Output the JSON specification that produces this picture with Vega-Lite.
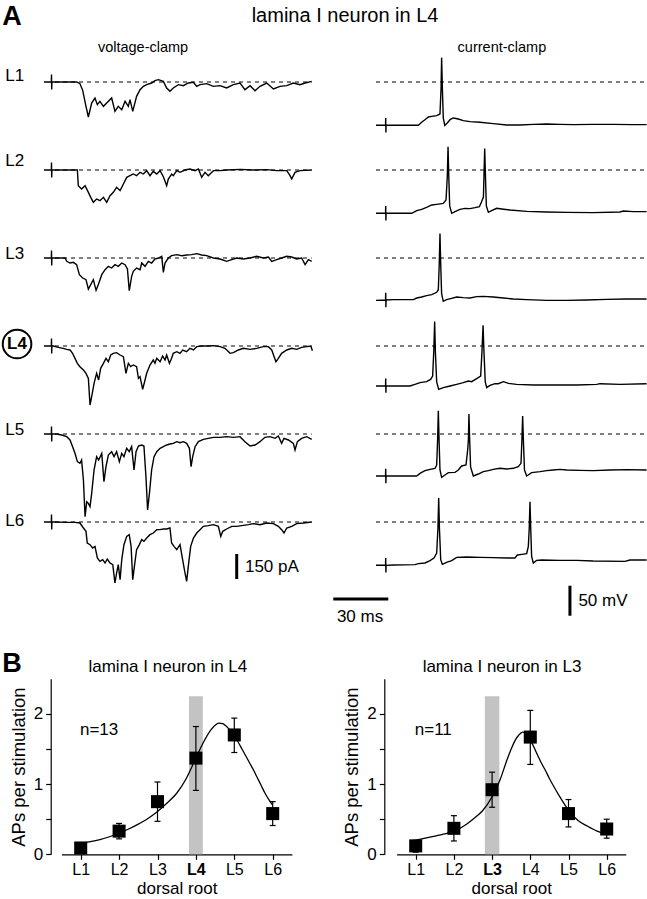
{
"$schema":"https://vega.github.io/schema/vega-lite/v6.json",
"width":647,"height":899,"autosize":{"type":"none"},"padding":0,"background":"white",
"config":{"view":{"stroke":null},"font":"Liberation Sans","axis":{"grid":false,"domainColor":"black","tickColor":"black","labelColor":"black","titleColor":"black","labelFontSize":17,"titleFontSize":18.5,"titleFontWeight":"normal","labelFont":"Liberation Sans","titleFont":"Liberation Sans","domainWidth":1.2,"tickWidth":1.2,"tickSize":5}},
"datasets":{
"vc":[
{"r":"L1","t":0,"v":0},{"r":"L1","t":4.0,"v":0},{"r":"L1","t":4.1,"v":45},{"r":"L1","t":4.2,"v":-45},{"r":"L1","t":4.3,"v":0},{"r":"L1","t":17.8,"v":0},{"r":"L1","t":19.6,"v":-10},{"r":"L1","t":21.1,"v":-50},{"r":"L1","t":22.9,"v":-146},{"r":"L1","t":24.2,"v":-210},{"r":"L1","t":26,"v":-126},{"r":"L1","t":27.8,"v":-96},{"r":"L1","t":29.1,"v":-136},{"r":"L1","t":30.5,"v":-116},{"r":"L1","t":32.4,"v":-146},{"r":"L1","t":34.2,"v":-126},{"r":"L1","t":36.9,"v":-96},{"r":"L1","t":38.7,"v":-176},{"r":"L1","t":40.5,"v":-146},{"r":"L1","t":42.4,"v":-166},{"r":"L1","t":44.2,"v":-116},{"r":"L1","t":46,"v":-146},{"r":"L1","t":46.9,"v":-106},{"r":"L1","t":48.4,"v":-176},{"r":"L1","t":50.5,"v":-86},{"r":"L1","t":52.4,"v":-46},{"r":"L1","t":54.2,"v":-26},{"r":"L1","t":56,"v":-16},{"r":"L1","t":58.7,"v":-6},{"r":"L1","t":60.5,"v":8},{"r":"L1","t":62.4,"v":14},{"r":"L1","t":65.1,"v":4},{"r":"L1","t":66.9,"v":-36},{"r":"L1","t":68.7,"v":-56},{"r":"L1","t":70.5,"v":-36},{"r":"L1","t":73.3,"v":-16},{"r":"L1","t":76,"v":-22},{"r":"L1","t":78.7,"v":-6},{"r":"L1","t":81.5,"v":-2},{"r":"L1","t":83.3,"v":-26},{"r":"L1","t":85.1,"v":-16},{"r":"L1","t":88.7,"v":-10},{"r":"L1","t":92.4,"v":-26},{"r":"L1","t":96,"v":-22},{"r":"L1","t":99.6,"v":-36},{"r":"L1","t":103.3,"v":-16},{"r":"L1","t":106.9,"v":-6},{"r":"L1","t":109.6,"v":-46},{"r":"L1","t":112.4,"v":-22},{"r":"L1","t":115.1,"v":-52},{"r":"L1","t":117.8,"v":-26},{"r":"L1","t":121.5,"v":-6},{"r":"L1","t":125.1,"v":-42},{"r":"L1","t":128.7,"v":-26},{"r":"L1","t":132.4,"v":-22},{"r":"L1","t":136,"v":-6},{"r":"L1","t":139.6,"v":-16},{"r":"L1","t":142.4,"v":-6},{"r":"L1","t":146,"v":4},
{"r":"L2","t":0,"v":0},{"r":"L2","t":4.0,"v":0},{"r":"L2","t":4.1,"v":45},{"r":"L2","t":4.2,"v":-45},{"r":"L2","t":4.3,"v":0},{"r":"L2","t":18.2,"v":0},{"r":"L2","t":18.7,"v":-94},{"r":"L2","t":20.5,"v":-114},{"r":"L2","t":22.4,"v":-94},{"r":"L2","t":24.2,"v":-134},{"r":"L2","t":25.5,"v":-164},{"r":"L2","t":26.9,"v":-194},{"r":"L2","t":28.7,"v":-174},{"r":"L2","t":30.5,"v":-184},{"r":"L2","t":32.4,"v":-164},{"r":"L2","t":34.2,"v":-194},{"r":"L2","t":36,"v":-154},{"r":"L2","t":37.8,"v":-134},{"r":"L2","t":39.6,"v":-104},{"r":"L2","t":41.5,"v":-124},{"r":"L2","t":43.3,"v":-84},{"r":"L2","t":45.1,"v":-44},{"r":"L2","t":46.9,"v":-34},{"r":"L2","t":48.7,"v":-24},{"r":"L2","t":50.5,"v":-34},{"r":"L2","t":52.4,"v":-14},{"r":"L2","t":54.2,"v":-24},{"r":"L2","t":56,"v":-4},{"r":"L2","t":57.8,"v":-34},{"r":"L2","t":59.6,"v":-8},{"r":"L2","t":61.5,"v":-24},{"r":"L2","t":63.3,"v":-4},{"r":"L2","t":65.1,"v":-40},{"r":"L2","t":66.9,"v":-94},{"r":"L2","t":67.8,"v":-54},{"r":"L2","t":69.6,"v":-24},{"r":"L2","t":70.5,"v":-34},{"r":"L2","t":72.4,"v":-4},{"r":"L2","t":74.2,"v":-14},{"r":"L2","t":76.9,"v":0},{"r":"L2","t":79.6,"v":6},{"r":"L2","t":82.4,"v":-4},{"r":"L2","t":84.2,"v":6},{"r":"L2","t":86,"v":-44},{"r":"L2","t":87.8,"v":-14},{"r":"L2","t":89.6,"v":-34},{"r":"L2","t":92.4,"v":-4},{"r":"L2","t":96,"v":-4},{"r":"L2","t":99.6,"v":0},{"r":"L2","t":106.9,"v":4},{"r":"L2","t":114.2,"v":0},{"r":"L2","t":121.5,"v":2},{"r":"L2","t":126.9,"v":-4},{"r":"L2","t":132.4,"v":-4},{"r":"L2","t":134.2,"v":-34},{"r":"L2","t":135.1,"v":-54},{"r":"L2","t":136.9,"v":-14},{"r":"L2","t":139.6,"v":-4},{"r":"L2","t":146,"v":0},
{"r":"L3","t":0,"v":0},{"r":"L3","t":4.0,"v":0},{"r":"L3","t":4.1,"v":45},{"r":"L3","t":4.2,"v":-45},{"r":"L3","t":4.3,"v":0},{"r":"L3","t":11.5,"v":0},{"r":"L3","t":12.4,"v":-20},{"r":"L3","t":14.2,"v":-30},{"r":"L3","t":16,"v":-26},{"r":"L3","t":17.8,"v":-40},{"r":"L3","t":19.3,"v":-100},{"r":"L3","t":21.1,"v":-120},{"r":"L3","t":22.9,"v":-130},{"r":"L3","t":24.2,"v":-186},{"r":"L3","t":25.5,"v":-160},{"r":"L3","t":26.9,"v":-130},{"r":"L3","t":28.4,"v":-194},{"r":"L3","t":29.6,"v":-160},{"r":"L3","t":31.5,"v":-100},{"r":"L3","t":33.3,"v":-70},{"r":"L3","t":35.1,"v":-50},{"r":"L3","t":36.9,"v":-60},{"r":"L3","t":38.7,"v":-40},{"r":"L3","t":40.5,"v":-50},{"r":"L3","t":42.4,"v":-30},{"r":"L3","t":44.2,"v":-40},{"r":"L3","t":45.5,"v":-66},{"r":"L3","t":46.5,"v":-196},{"r":"L3","t":47.8,"v":-110},{"r":"L3","t":48.7,"v":-80},{"r":"L3","t":50.5,"v":-60},{"r":"L3","t":52.4,"v":-70},{"r":"L3","t":53.3,"v":-30},{"r":"L3","t":55.1,"v":-50},{"r":"L3","t":56.9,"v":-20},{"r":"L3","t":58.7,"v":-30},{"r":"L3","t":60.5,"v":-6},{"r":"L3","t":62.4,"v":0},{"r":"L3","t":64.2,"v":10},{"r":"L3","t":65.1,"v":-86},{"r":"L3","t":66,"v":-30},{"r":"L3","t":67.8,"v":0},{"r":"L3","t":69.6,"v":14},{"r":"L3","t":72.4,"v":20},{"r":"L3","t":75.1,"v":14},{"r":"L3","t":77.8,"v":18},{"r":"L3","t":80.5,"v":20},{"r":"L3","t":83.3,"v":26},{"r":"L3","t":86,"v":18},{"r":"L3","t":88.7,"v":14},{"r":"L3","t":92.4,"v":0},{"r":"L3","t":96,"v":-6},{"r":"L3","t":99.6,"v":-20},{"r":"L3","t":102.4,"v":-10},{"r":"L3","t":105.1,"v":0},{"r":"L3","t":108.7,"v":-6},{"r":"L3","t":112.4,"v":0},{"r":"L3","t":116,"v":10},{"r":"L3","t":119.6,"v":0},{"r":"L3","t":122.4,"v":6},{"r":"L3","t":124.2,"v":-20},{"r":"L3","t":126.9,"v":-10},{"r":"L3","t":129.6,"v":0},{"r":"L3","t":132.4,"v":10},{"r":"L3","t":135.1,"v":6},{"r":"L3","t":137.8,"v":-6},{"r":"L3","t":140.5,"v":0},{"r":"L3","t":142.4,"v":-40},{"r":"L3","t":144.2,"v":-10},{"r":"L3","t":146,"v":-20},
{"r":"L4","t":0,"v":0},{"r":"L4","t":4.0,"v":0},{"r":"L4","t":4.1,"v":45},{"r":"L4","t":4.2,"v":-45},{"r":"L4","t":4.3,"v":0},{"r":"L4","t":5.1,"v":0},{"r":"L4","t":7.8,"v":-8},{"r":"L4","t":10.5,"v":-14},{"r":"L4","t":12.4,"v":-20},{"r":"L4","t":14.2,"v":-24},{"r":"L4","t":15.6,"v":-44},{"r":"L4","t":16.9,"v":-74},{"r":"L4","t":18.2,"v":-104},{"r":"L4","t":19.6,"v":-124},{"r":"L4","t":21.5,"v":-144},{"r":"L4","t":22.9,"v":-164},{"r":"L4","t":24.2,"v":-194},{"r":"L4","t":25.1,"v":-354},{"r":"L4","t":26,"v":-304},{"r":"L4","t":27.3,"v":-224},{"r":"L4","t":28.7,"v":-164},{"r":"L4","t":29.8,"v":-204},{"r":"L4","t":30.9,"v":-134},{"r":"L4","t":32.4,"v":-104},{"r":"L4","t":33.8,"v":-74},{"r":"L4","t":35.1,"v":-94},{"r":"L4","t":36.4,"v":-54},{"r":"L4","t":37.8,"v":-44},{"r":"L4","t":39.6,"v":-40},{"r":"L4","t":41.5,"v":-54},{"r":"L4","t":43.3,"v":-64},{"r":"L4","t":44.7,"v":-164},{"r":"L4","t":46,"v":-104},{"r":"L4","t":47.3,"v":-124},{"r":"L4","t":48.7,"v":-114},{"r":"L4","t":50.5,"v":-124},{"r":"L4","t":51.5,"v":-194},{"r":"L4","t":52.4,"v":-184},{"r":"L4","t":53.8,"v":-260},{"r":"L4","t":55.1,"v":-204},{"r":"L4","t":56,"v":-164},{"r":"L4","t":57.8,"v":-114},{"r":"L4","t":59.6,"v":-84},{"r":"L4","t":60.5,"v":-104},{"r":"L4","t":61.5,"v":-74},{"r":"L4","t":63.3,"v":-94},{"r":"L4","t":64.7,"v":-60},{"r":"L4","t":66,"v":-84},{"r":"L4","t":66.9,"v":-54},{"r":"L4","t":68.4,"v":-104},{"r":"L4","t":69.6,"v":-74},{"r":"L4","t":70.5,"v":-44},{"r":"L4","t":72.4,"v":-34},{"r":"L4","t":74.2,"v":-44},{"r":"L4","t":75.6,"v":-24},{"r":"L4","t":77.8,"v":-34},{"r":"L4","t":79.6,"v":-14},{"r":"L4","t":81.5,"v":-24},{"r":"L4","t":83.3,"v":-4},{"r":"L4","t":86,"v":0},{"r":"L4","t":88.7,"v":0},{"r":"L4","t":92.4,"v":2},{"r":"L4","t":96,"v":-4},{"r":"L4","t":98.7,"v":-14},{"r":"L4","t":101.5,"v":-44},{"r":"L4","t":103.3,"v":-40},{"r":"L4","t":106,"v":-24},{"r":"L4","t":108.7,"v":-14},{"r":"L4","t":112.4,"v":-20},{"r":"L4","t":116,"v":-14},{"r":"L4","t":119.6,"v":-4},{"r":"L4","t":122.4,"v":-4},{"r":"L4","t":124.2,"v":-24},{"r":"L4","t":125.5,"v":-64},{"r":"L4","t":126.5,"v":-94},{"r":"L4","t":127.8,"v":-74},{"r":"L4","t":129.6,"v":-44},{"r":"L4","t":132.4,"v":-24},{"r":"L4","t":135.1,"v":-14},{"r":"L4","t":137.8,"v":-20},{"r":"L4","t":140.5,"v":-8},{"r":"L4","t":143.3,"v":-4},{"r":"L4","t":145.5,"v":0},{"r":"L4","t":146.4,"v":-28},
{"r":"L5","t":0,"v":0},{"r":"L5","t":4.0,"v":0},{"r":"L5","t":4.1,"v":45},{"r":"L5","t":4.2,"v":-45},{"r":"L5","t":4.3,"v":0},{"r":"L5","t":6.9,"v":0},{"r":"L5","t":9.6,"v":-6},{"r":"L5","t":12.4,"v":-16},{"r":"L5","t":14.2,"v":-36},{"r":"L5","t":15.6,"v":-76},{"r":"L5","t":16.9,"v":-116},{"r":"L5","t":18.2,"v":-166},{"r":"L5","t":19.6,"v":-176},{"r":"L5","t":20.5,"v":-156},{"r":"L5","t":21.5,"v":-276},{"r":"L5","t":22.4,"v":-496},{"r":"L5","t":23.3,"v":-406},{"r":"L5","t":24.2,"v":-416},{"r":"L5","t":25.1,"v":-436},{"r":"L5","t":26,"v":-356},{"r":"L5","t":27.3,"v":-216},{"r":"L5","t":28.7,"v":-136},{"r":"L5","t":29.8,"v":-156},{"r":"L5","t":31.5,"v":-116},{"r":"L5","t":32.7,"v":-286},{"r":"L5","t":33.8,"v":-196},{"r":"L5","t":35.1,"v":-126},{"r":"L5","t":36.9,"v":-106},{"r":"L5","t":38.2,"v":-136},{"r":"L5","t":39.6,"v":-106},{"r":"L5","t":41.1,"v":-166},{"r":"L5","t":42.4,"v":-116},{"r":"L5","t":43.6,"v":-136},{"r":"L5","t":45.1,"v":-86},{"r":"L5","t":46.5,"v":-106},{"r":"L5","t":47.8,"v":-76},{"r":"L5","t":49.1,"v":-216},{"r":"L5","t":50.2,"v":-106},{"r":"L5","t":51.5,"v":-72},{"r":"L5","t":53.3,"v":-66},{"r":"L5","t":54.5,"v":-72},{"r":"L5","t":55.6,"v":-256},{"r":"L5","t":56.5,"v":-456},{"r":"L5","t":57.5,"v":-356},{"r":"L5","t":58.7,"v":-216},{"r":"L5","t":60,"v":-136},{"r":"L5","t":61.5,"v":-106},{"r":"L5","t":63.3,"v":-86},{"r":"L5","t":65.1,"v":-76},{"r":"L5","t":66.9,"v":-66},{"r":"L5","t":68.7,"v":-60},{"r":"L5","t":70.5,"v":-56},{"r":"L5","t":72.4,"v":-46},{"r":"L5","t":74.2,"v":-52},{"r":"L5","t":76,"v":-46},{"r":"L5","t":77.8,"v":-56},{"r":"L5","t":79.3,"v":-86},{"r":"L5","t":80.2,"v":-196},{"r":"L5","t":81.1,"v":-136},{"r":"L5","t":82.4,"v":-76},{"r":"L5","t":84.2,"v":-46},{"r":"L5","t":86.9,"v":-32},{"r":"L5","t":89.6,"v":-26},{"r":"L5","t":92.4,"v":-20},{"r":"L5","t":96,"v":-20},{"r":"L5","t":99.6,"v":-16},{"r":"L5","t":103.3,"v":-20},{"r":"L5","t":106.9,"v":-16},{"r":"L5","t":109.6,"v":-46},{"r":"L5","t":112.4,"v":-72},{"r":"L5","t":115.1,"v":-66},{"r":"L5","t":117.8,"v":-46},{"r":"L5","t":120.5,"v":-20},{"r":"L5","t":123.3,"v":-16},{"r":"L5","t":126,"v":-26},{"r":"L5","t":127.8,"v":-12},{"r":"L5","t":129.6,"v":-56},{"r":"L5","t":130.9,"v":-26},{"r":"L5","t":133.3,"v":-36},{"r":"L5","t":136,"v":-56},{"r":"L5","t":136.9,"v":-96},{"r":"L5","t":138.2,"v":-46},{"r":"L5","t":140.5,"v":-26},{"r":"L5","t":143.3,"v":-16},{"r":"L5","t":146,"v":-32},
{"r":"L6","t":0,"v":0},{"r":"L6","t":4.0,"v":0},{"r":"L6","t":4.1,"v":45},{"r":"L6","t":4.2,"v":-45},{"r":"L6","t":4.3,"v":0},{"r":"L6","t":6,"v":0},{"r":"L6","t":12.4,"v":-2},{"r":"L6","t":16.9,"v":-2},{"r":"L6","t":19.6,"v":-6},{"r":"L6","t":21.5,"v":-36},{"r":"L6","t":22.9,"v":-56},{"r":"L6","t":23.6,"v":-126},{"r":"L6","t":25.1,"v":-136},{"r":"L6","t":26.5,"v":-156},{"r":"L6","t":27.8,"v":-146},{"r":"L6","t":29.1,"v":-216},{"r":"L6","t":30.5,"v":-236},{"r":"L6","t":32,"v":-226},{"r":"L6","t":33.3,"v":-246},{"r":"L6","t":34.5,"v":-222},{"r":"L6","t":36,"v":-246},{"r":"L6","t":37.5,"v":-256},{"r":"L6","t":38.7,"v":-366},{"r":"L6","t":39.6,"v":-306},{"r":"L6","t":40.5,"v":-256},{"r":"L6","t":41.5,"v":-346},{"r":"L6","t":42.4,"v":-226},{"r":"L6","t":43.6,"v":-136},{"r":"L6","t":45.1,"v":-86},{"r":"L6","t":46.5,"v":-76},{"r":"L6","t":47.5,"v":-146},{"r":"L6","t":48.4,"v":-346},{"r":"L6","t":49.3,"v":-266},{"r":"L6","t":50.5,"v":-166},{"r":"L6","t":52,"v":-136},{"r":"L6","t":53.3,"v":-106},{"r":"L6","t":54.5,"v":-116},{"r":"L6","t":56,"v":-96},{"r":"L6","t":57.8,"v":-76},{"r":"L6","t":59.6,"v":-66},{"r":"L6","t":61.5,"v":-46},{"r":"L6","t":63.3,"v":-46},{"r":"L6","t":65.1,"v":-42},{"r":"L6","t":66.9,"v":-42},{"r":"L6","t":68.7,"v":-36},{"r":"L6","t":69.6,"v":-126},{"r":"L6","t":70.9,"v":-146},{"r":"L6","t":72.4,"v":-166},{"r":"L6","t":74.2,"v":-136},{"r":"L6","t":75.6,"v":-226},{"r":"L6","t":76.9,"v":-306},{"r":"L6","t":77.8,"v":-356},{"r":"L6","t":78.7,"v":-266},{"r":"L6","t":80,"v":-146},{"r":"L6","t":81.5,"v":-96},{"r":"L6","t":83.3,"v":-66},{"r":"L6","t":85.1,"v":-46},{"r":"L6","t":86.9,"v":-26},{"r":"L6","t":89.6,"v":-22},{"r":"L6","t":92.4,"v":-16},{"r":"L6","t":95.1,"v":-26},{"r":"L6","t":96.4,"v":-86},{"r":"L6","t":97.5,"v":-56},{"r":"L6","t":99.6,"v":-42},{"r":"L6","t":102.4,"v":-26},{"r":"L6","t":105.1,"v":-26},{"r":"L6","t":107.8,"v":-22},{"r":"L6","t":111.5,"v":-16},{"r":"L6","t":114.2,"v":-10},{"r":"L6","t":117.8,"v":-16},{"r":"L6","t":121.5,"v":-6},{"r":"L6","t":125.1,"v":-10},{"r":"L6","t":127.8,"v":-26},{"r":"L6","t":129.6,"v":-46},{"r":"L6","t":130.9,"v":-66},{"r":"L6","t":132.4,"v":-36},{"r":"L6","t":135.1,"v":-26},{"r":"L6","t":137.8,"v":-10},{"r":"L6","t":141.5,"v":-6},{"r":"L6","t":146,"v":0}
],
"cc":[
{"r":"L1","t":0,"v":-72.2},{"r":"L1","t":5.2,"v":-72.2},{"r":"L1","t":5.3,"v":-60},{"r":"L1","t":5.4,"v":-84},{"r":"L1","t":5.5,"v":-72.2},{"r":"L1","t":23.1,"v":-72.2},{"r":"L1","t":24.9,"v":-67.2},{"r":"L1","t":26.7,"v":-62.8},{"r":"L1","t":28.6,"v":-58.3},{"r":"L1","t":30.4,"v":-57.2},{"r":"L1","t":33.1,"v":-56.1},{"r":"L1","t":34.9,"v":-53.3},{"r":"L1","t":35.5,"v":-10},{"r":"L1","t":35.8,"v":40.6},{"r":"L1","t":36.2,"v":-10},{"r":"L1","t":36.7,"v":-60},{"r":"L1","t":37.5,"v":-72.2},{"r":"L1","t":38.9,"v":-68.3},{"r":"L1","t":40.4,"v":-62.8},{"r":"L1","t":42.2,"v":-60},{"r":"L1","t":44.9,"v":-61.7},{"r":"L1","t":47.6,"v":-64.4},{"r":"L1","t":51.3,"v":-66.1},{"r":"L1","t":56.7,"v":-67.2},{"r":"L1","t":64,"v":-69.4},{"r":"L1","t":71.3,"v":-71.7},{"r":"L1","t":78.5,"v":-71.7},{"r":"L1","t":85.8,"v":-70.6},{"r":"L1","t":93.1,"v":-70},{"r":"L1","t":100.4,"v":-70.6},{"r":"L1","t":107.6,"v":-71.1},{"r":"L1","t":118.5,"v":-70.6},{"r":"L1","t":129.5,"v":-70.6},{"r":"L1","t":140.4,"v":-71.1},{"r":"L1","t":147.6,"v":-71.1},
{"r":"L2","t":0,"v":-72.2},{"r":"L2","t":5.2,"v":-72.2},{"r":"L2","t":5.3,"v":-60},{"r":"L2","t":5.4,"v":-84},{"r":"L2","t":5.5,"v":-72.2},{"r":"L2","t":19.5,"v":-72.2},{"r":"L2","t":22.2,"v":-67.8},{"r":"L2","t":24.9,"v":-65.6},{"r":"L2","t":27.6,"v":-62.2},{"r":"L2","t":30.4,"v":-58.3},{"r":"L2","t":33.1,"v":-57.2},{"r":"L2","t":36.7,"v":-55.6},{"r":"L2","t":38.2,"v":-50},{"r":"L2","t":38.9,"v":-10},{"r":"L2","t":39.3,"v":38.9},{"r":"L2","t":39.7,"v":-10},{"r":"L2","t":40.2,"v":-60},{"r":"L2","t":41.3,"v":-72.2},{"r":"L2","t":43.1,"v":-69.4},{"r":"L2","t":45.8,"v":-65.6},{"r":"L2","t":48.5,"v":-63.9},{"r":"L2","t":51.3,"v":-64.4},{"r":"L2","t":54,"v":-62.8},{"r":"L2","t":56.4,"v":-61.1},{"r":"L2","t":57.6,"v":-52.8},{"r":"L2","t":58.6,"v":-45},{"r":"L2","t":58.9,"v":-10},{"r":"L2","t":59.3,"v":35.6},{"r":"L2","t":59.7,"v":-10},{"r":"L2","t":60.2,"v":-60},{"r":"L2","t":61.3,"v":-70.6},{"r":"L2","t":63.1,"v":-67.8},{"r":"L2","t":65.8,"v":-63.9},{"r":"L2","t":68.6,"v":-65},{"r":"L2","t":73.1,"v":-66.7},{"r":"L2","t":82.2,"v":-68.9},{"r":"L2","t":93.1,"v":-70},{"r":"L2","t":104,"v":-70.6},{"r":"L2","t":118.5,"v":-71.1},{"r":"L2","t":133.1,"v":-70},{"r":"L2","t":134.9,"v":-68.3},{"r":"L2","t":140.4,"v":-69.4},{"r":"L2","t":147.6,"v":-69.4},
{"r":"L3","t":0,"v":-70.6},{"r":"L3","t":5.2,"v":-70},{"r":"L3","t":5.3,"v":-58},{"r":"L3","t":5.4,"v":-82},{"r":"L3","t":5.5,"v":-70},{"r":"L3","t":9.5,"v":-69.4},{"r":"L3","t":20.4,"v":-69.4},{"r":"L3","t":22.2,"v":-66.7},{"r":"L3","t":24.9,"v":-65},{"r":"L3","t":27.6,"v":-62.8},{"r":"L3","t":30.4,"v":-61.1},{"r":"L3","t":33.1,"v":-57.2},{"r":"L3","t":34,"v":-52.8},{"r":"L3","t":34.5,"v":-10},{"r":"L3","t":34.9,"v":40.6},{"r":"L3","t":35.3,"v":-10},{"r":"L3","t":35.8,"v":-60},{"r":"L3","t":36.7,"v":-72.2},{"r":"L3","t":38.5,"v":-69.4},{"r":"L3","t":41.3,"v":-67.2},{"r":"L3","t":44,"v":-65},{"r":"L3","t":47.6,"v":-66.1},{"r":"L3","t":51.3,"v":-66.7},{"r":"L3","t":54.9,"v":-64.4},{"r":"L3","t":58.5,"v":-63.9},{"r":"L3","t":64,"v":-65},{"r":"L3","t":69.5,"v":-66.7},{"r":"L3","t":74.9,"v":-68.3},{"r":"L3","t":82.2,"v":-69.4},{"r":"L3","t":93.1,"v":-70.6},{"r":"L3","t":104,"v":-70.6},{"r":"L3","t":114.9,"v":-70},{"r":"L3","t":125.8,"v":-68.9},{"r":"L3","t":136.7,"v":-68.3},{"r":"L3","t":147.6,"v":-68.3},
{"r":"L4","t":0,"v":-66.7},{"r":"L4","t":5.2,"v":-66.7},{"r":"L4","t":5.3,"v":-54},{"r":"L4","t":5.4,"v":-78},{"r":"L4","t":5.5,"v":-66.7},{"r":"L4","t":18.5,"v":-66.7},{"r":"L4","t":21.3,"v":-63.9},{"r":"L4","t":24,"v":-61.1},{"r":"L4","t":27.6,"v":-59.4},{"r":"L4","t":29.8,"v":-55.6},{"r":"L4","t":30.9,"v":-50},{"r":"L4","t":31.5,"v":-10},{"r":"L4","t":32,"v":40.6},{"r":"L4","t":32.4,"v":-10},{"r":"L4","t":33.1,"v":-60},{"r":"L4","t":34.2,"v":-72.2},{"r":"L4","t":36.7,"v":-69.4},{"r":"L4","t":40.4,"v":-66.7},{"r":"L4","t":44,"v":-63.9},{"r":"L4","t":47.6,"v":-61.1},{"r":"L4","t":50.4,"v":-58.3},{"r":"L4","t":52.2,"v":-59.4},{"r":"L4","t":54.9,"v":-54.4},{"r":"L4","t":57.1,"v":-50},{"r":"L4","t":57.8,"v":-10},{"r":"L4","t":58.4,"v":34.4},{"r":"L4","t":58.9,"v":-10},{"r":"L4","t":59.6,"v":-60},{"r":"L4","t":60.4,"v":-69.4},{"r":"L4","t":62.2,"v":-65.6},{"r":"L4","t":64.9,"v":-62.8},{"r":"L4","t":66.7,"v":-62.8},{"r":"L4","t":69.5,"v":-59.4},{"r":"L4","t":72.2,"v":-62.2},{"r":"L4","t":76.7,"v":-63.9},{"r":"L4","t":85.8,"v":-65},{"r":"L4","t":96.7,"v":-65},{"r":"L4","t":109.5,"v":-65},{"r":"L4","t":120.4,"v":-63.9},{"r":"L4","t":122.2,"v":-62.8},{"r":"L4","t":133.1,"v":-63.9},{"r":"L4","t":147.6,"v":-62.8},
{"r":"L5","t":0,"v":-70},{"r":"L5","t":5.2,"v":-70},{"r":"L5","t":5.3,"v":-58},{"r":"L5","t":5.4,"v":-82},{"r":"L5","t":5.5,"v":-70},{"r":"L5","t":22.2,"v":-70},{"r":"L5","t":24,"v":-65.6},{"r":"L5","t":26.7,"v":-61.1},{"r":"L5","t":29.5,"v":-58.9},{"r":"L5","t":32.2,"v":-57.2},{"r":"L5","t":33.1,"v":-51.7},{"r":"L5","t":33.6,"v":-10},{"r":"L5","t":34,"v":38.9},{"r":"L5","t":34.4,"v":-10},{"r":"L5","t":34.9,"v":-60},{"r":"L5","t":35.8,"v":-72.2},{"r":"L5","t":37.6,"v":-68.3},{"r":"L5","t":39.5,"v":-64.4},{"r":"L5","t":43.1,"v":-63.9},{"r":"L5","t":44.9,"v":-60},{"r":"L5","t":46.7,"v":-53.3},{"r":"L5","t":49.1,"v":-51.7},{"r":"L5","t":50,"v":-26.7},{"r":"L5","t":50.4,"v":-10},{"r":"L5","t":50.7,"v":33.3},{"r":"L5","t":51.1,"v":-10},{"r":"L5","t":51.6,"v":-55},{"r":"L5","t":53.1,"v":-70},{"r":"L5","t":55.8,"v":-66.7},{"r":"L5","t":58.5,"v":-62.8},{"r":"L5","t":61.3,"v":-61.1},{"r":"L5","t":64,"v":-58.9},{"r":"L5","t":67.6,"v":-57.2},{"r":"L5","t":71.3,"v":-58.3},{"r":"L5","t":74.9,"v":-57.2},{"r":"L5","t":77.6,"v":-54.4},{"r":"L5","t":79.1,"v":-48.9},{"r":"L5","t":79.6,"v":-10},{"r":"L5","t":80,"v":30},{"r":"L5","t":80.4,"v":-10},{"r":"L5","t":81,"v":-60},{"r":"L5","t":82.2,"v":-70},{"r":"L5","t":84.9,"v":-64.4},{"r":"L5","t":89.5,"v":-62.8},{"r":"L5","t":93.1,"v":-61.1},{"r":"L5","t":96.7,"v":-60},{"r":"L5","t":100.4,"v":-58.9},{"r":"L5","t":104,"v":-60},{"r":"L5","t":111.3,"v":-60.6},{"r":"L5","t":118.5,"v":-61.1},{"r":"L5","t":127.6,"v":-60},{"r":"L5","t":136.7,"v":-59.4},{"r":"L5","t":147.6,"v":-60},
{"r":"L6","t":0,"v":-72.2},{"r":"L6","t":5.2,"v":-72.2},{"r":"L6","t":5.3,"v":-60},{"r":"L6","t":5.4,"v":-84},{"r":"L6","t":5.5,"v":-72.2},{"r":"L6","t":9.5,"v":-71.7},{"r":"L6","t":21.3,"v":-71.1},{"r":"L6","t":23.1,"v":-69.4},{"r":"L6","t":26.7,"v":-68.3},{"r":"L6","t":29.5,"v":-64.4},{"r":"L6","t":31.6,"v":-60},{"r":"L6","t":33.1,"v":-51.7},{"r":"L6","t":33.8,"v":-10},{"r":"L6","t":34.2,"v":40},{"r":"L6","t":34.6,"v":-10},{"r":"L6","t":35.3,"v":-62.8},{"r":"L6","t":36.2,"v":-70.6},{"r":"L6","t":38.5,"v":-67.2},{"r":"L6","t":41.3,"v":-64.4},{"r":"L6","t":44,"v":-58.9},{"r":"L6","t":49.5,"v":-58.3},{"r":"L6","t":56.7,"v":-58.9},{"r":"L6","t":64,"v":-59.4},{"r":"L6","t":71.3,"v":-60},{"r":"L6","t":75.8,"v":-60},{"r":"L6","t":77.1,"v":-55},{"r":"L6","t":79.5,"v":-53.9},{"r":"L6","t":82.2,"v":-52.8},{"r":"L6","t":83.1,"v":-40.6},{"r":"L6","t":83.6,"v":-10},{"r":"L6","t":84,"v":33.9},{"r":"L6","t":84.4,"v":-10},{"r":"L6","t":84.9,"v":-57.2},{"r":"L6","t":85.8,"v":-68.3},{"r":"L6","t":87.6,"v":-63.9},{"r":"L6","t":90.4,"v":-63.3},{"r":"L6","t":100.4,"v":-63.9},{"r":"L6","t":109.5,"v":-63.9},{"r":"L6","t":118.5,"v":-65},{"r":"L6","t":135.8,"v":-65.6},{"r":"L6","t":138.5,"v":-63.3},{"r":"L6","t":147.6,"v":-63.3}
],
"ap":[
{"p":"L4","x":1,"y":0.09,"lo":0.03,"hi":0.15},{"p":"L4","x":2,"y":0.33,"lo":0.22,"hi":0.44},{"p":"L4","x":3,"y":0.75,"lo":0.47,"hi":1.03},{"p":"L4","x":4,"y":1.37,"lo":0.91,"hi":1.82},{"p":"L4","x":5,"y":1.70,"lo":1.45,"hi":1.94},{"p":"L4","x":6,"y":0.58,"lo":0.41,"hi":0.75},
{"p":"L3","x":1,"y":0.12,"lo":0.03,"hi":0.20},{"p":"L3","x":2,"y":0.37,"lo":0.19,"hi":0.55},{"p":"L3","x":3,"y":0.92,"lo":0.67,"hi":1.17},{"p":"L3","x":4,"y":1.67,"lo":1.28,"hi":2.05},{"p":"L3","x":5,"y":0.58,"lo":0.39,"hi":0.78},{"p":"L3","x":6,"y":0.36,"lo":0.23,"hi":0.50}
],
"fit":[
{"p":"L4","x":1.0,"y":0.157},{"p":"L4","x":1.25,"y":0.18},{"p":"L4","x":1.5,"y":0.21},{"p":"L4","x":1.75,"y":0.25},{"p":"L4","x":2.0,"y":0.30},{"p":"L4","x":2.25,"y":0.36},{"p":"L4","x":2.5,"y":0.43},{"p":"L4","x":2.75,"y":0.51},{"p":"L4","x":3.0,"y":0.61},{"p":"L4","x":3.25,"y":0.73},{"p":"L4","x":3.5,"y":0.87},{"p":"L4","x":3.75,"y":1.08},{"p":"L4","x":4.0,"y":1.37},{"p":"L4","x":4.2,"y":1.60},{"p":"L4","x":4.4,"y":1.78},{"p":"L4","x":4.5,"y":1.84},{"p":"L4","x":4.6,"y":1.87},{"p":"L4","x":4.7,"y":1.86},{"p":"L4","x":4.8,"y":1.82},{"p":"L4","x":4.9,"y":1.76},{"p":"L4","x":5.0,"y":1.69},{"p":"L4","x":5.1,"y":1.60},{"p":"L4","x":5.2,"y":1.50},{"p":"L4","x":5.3,"y":1.40},{"p":"L4","x":5.4,"y":1.30},{"p":"L4","x":5.5,"y":1.20},{"p":"L4","x":5.6,"y":1.09},{"p":"L4","x":5.7,"y":0.98},{"p":"L4","x":5.8,"y":0.87},{"p":"L4","x":5.9,"y":0.78},{"p":"L4","x":6.0,"y":0.70},
{"p":"L3","x":1.0,"y":0.20},{"p":"L3","x":1.25,"y":0.23},{"p":"L3","x":1.5,"y":0.26},{"p":"L3","x":1.75,"y":0.29},{"p":"L3","x":2.0,"y":0.33},{"p":"L3","x":2.25,"y":0.40},{"p":"L3","x":2.5,"y":0.50},{"p":"L3","x":2.75,"y":0.62},{"p":"L3","x":3.0,"y":0.82},{"p":"L3","x":3.2,"y":1.05},{"p":"L3","x":3.4,"y":1.36},{"p":"L3","x":3.5,"y":1.50},{"p":"L3","x":3.6,"y":1.62},{"p":"L3","x":3.7,"y":1.70},{"p":"L3","x":3.8,"y":1.74},{"p":"L3","x":3.9,"y":1.72},{"p":"L3","x":4.0,"y":1.63},{"p":"L3","x":4.1,"y":1.52},{"p":"L3","x":4.2,"y":1.40},{"p":"L3","x":4.3,"y":1.29},{"p":"L3","x":4.4,"y":1.19},{"p":"L3","x":4.5,"y":1.08},{"p":"L3","x":4.6,"y":0.98},{"p":"L3","x":4.75,"y":0.84},{"p":"L3","x":5.0,"y":0.63},{"p":"L3","x":5.25,"y":0.48},{"p":"L3","x":5.5,"y":0.40},{"p":"L3","x":5.75,"y":0.33},{"p":"L3","x":6.0,"y":0.28}
]
},
"layer":[
{"layer":[
 {"data":{"name":"vc"},"transform":[{"filter":"datum.r === 'L1'"}],"mark":{"type":"line","color":"black","strokeWidth":1.4},"encoding":{"x":{"field":"t","type":"quantitative","scale":{"domain":[0,146],"range":[44,311.7],"nice":false,"zero":false},"axis":null},"y":{"field":"v","type":"quantitative","scale":{"domain":[-600,150],"range":[182,57],"nice":false,"zero":false},"axis":null}}},
 {"data":{"values":[{}]},"mark":{"type":"rule","color":"black","strokeWidth":1,"strokeDash":[4,4]},"encoding":{"x":{"datum":6,"type":"quantitative","scale":{"domain":[0,146],"range":[44,311.7],"nice":false,"zero":false},"axis":null},"x2":{"datum":146},"y":{"datum":0,"type":"quantitative","scale":{"domain":[-600,150],"range":[182,57],"nice":false,"zero":false},"axis":null}}},
 {"data":{"values":[{}]},"mark":{"type":"text","fontSize":17,"align":"center","baseline":"middle","color":"black"},"encoding":{"x":{"datum":-16,"type":"quantitative","scale":{"domain":[0,146],"range":[44,311.7],"nice":false,"zero":false},"axis":null},"y":{"datum":36,"type":"quantitative","scale":{"domain":[-600,150],"range":[182,57],"nice":false,"zero":false},"axis":null},"text":{"value":"L1"}}},
 {"data":{"values":[{}]},"mark":{"type":"text","fontSize":27,"fontWeight":"bold","align":"center","baseline":"alphabetic","color":"black"},"encoding":{"x":{"datum":-17.5,"type":"quantitative","scale":{"domain":[0,146],"range":[44,311.7],"nice":false,"zero":false},"axis":null},"y":{"datum":342,"type":"quantitative","scale":{"domain":[-600,150],"range":[182,57],"nice":false,"zero":false},"axis":null},"text":{"value":"A"}}},
 {"data":{"values":[{}]},"mark":{"type":"text","fontSize":20,"align":"center","baseline":"middle","color":"black"},"encoding":{"x":{"datum":164.2,"type":"quantitative","scale":{"domain":[0,146],"range":[44,311.7],"nice":false,"zero":false},"axis":null},"y":{"datum":396,"type":"quantitative","scale":{"domain":[-600,150],"range":[182,57],"nice":false,"zero":false},"axis":null},"text":{"value":"lamina I neuron in L4"}}},
 {"data":{"values":[{}]},"mark":{"type":"text","fontSize":14.5,"align":"center","baseline":"middle","color":"black"},"encoding":{"x":{"datum":54,"type":"quantitative","scale":{"domain":[0,146],"range":[44,311.7],"nice":false,"zero":false},"axis":null},"y":{"datum":204,"type":"quantitative","scale":{"domain":[-600,150],"range":[182,57],"nice":false,"zero":false},"axis":null},"text":{"value":"voltage-clamp"}}}
]},
{"layer":[
 {"data":{"name":"vc"},"transform":[{"filter":"datum.r === 'L2'"}],"mark":{"type":"line","color":"black","strokeWidth":1.4},"encoding":{"x":{"field":"t","type":"quantitative","scale":{"domain":[0,146],"range":[44,311.7],"nice":false,"zero":false},"axis":null},"y":{"field":"v","type":"quantitative","scale":{"domain":[-600,150],"range":[270,145],"nice":false,"zero":false},"axis":null}}},
 {"data":{"values":[{}]},"mark":{"type":"rule","color":"black","strokeWidth":1,"strokeDash":[4,4]},"encoding":{"x":{"datum":6,"type":"quantitative","scale":{"domain":[0,146],"range":[44,311.7],"nice":false,"zero":false},"axis":null},"x2":{"datum":146},"y":{"datum":0,"type":"quantitative","scale":{"domain":[-600,150],"range":[270,145],"nice":false,"zero":false},"axis":null}}},
 {"data":{"values":[{}]},"mark":{"type":"text","fontSize":17,"align":"center","baseline":"middle","color":"black"},"encoding":{"x":{"datum":-16,"type":"quantitative","scale":{"domain":[0,146],"range":[44,311.7],"nice":false,"zero":false},"axis":null},"y":{"datum":54,"type":"quantitative","scale":{"domain":[-600,150],"range":[270,145],"nice":false,"zero":false},"axis":null},"text":{"value":"L2"}}}
]},
{"layer":[
 {"data":{"name":"vc"},"transform":[{"filter":"datum.r === 'L3'"}],"mark":{"type":"line","color":"black","strokeWidth":1.4},"encoding":{"x":{"field":"t","type":"quantitative","scale":{"domain":[0,146],"range":[44,311.7],"nice":false,"zero":false},"axis":null},"y":{"field":"v","type":"quantitative","scale":{"domain":[-600,150],"range":[358,233],"nice":false,"zero":false},"axis":null}}},
 {"data":{"values":[{}]},"mark":{"type":"rule","color":"black","strokeWidth":1,"strokeDash":[4,4]},"encoding":{"x":{"datum":6,"type":"quantitative","scale":{"domain":[0,146],"range":[44,311.7],"nice":false,"zero":false},"axis":null},"x2":{"datum":146},"y":{"datum":0,"type":"quantitative","scale":{"domain":[-600,150],"range":[358,233],"nice":false,"zero":false},"axis":null}}},
 {"data":{"values":[{}]},"mark":{"type":"text","fontSize":17,"align":"center","baseline":"middle","color":"black"},"encoding":{"x":{"datum":-16,"type":"quantitative","scale":{"domain":[0,146],"range":[44,311.7],"nice":false,"zero":false},"axis":null},"y":{"datum":24,"type":"quantitative","scale":{"domain":[-600,150],"range":[358,233],"nice":false,"zero":false},"axis":null},"text":{"value":"L3"}}}
]},
{"layer":[
 {"data":{"name":"vc"},"transform":[{"filter":"datum.r === 'L4'"}],"mark":{"type":"line","color":"black","strokeWidth":1.4},"encoding":{"x":{"field":"t","type":"quantitative","scale":{"domain":[0,146],"range":[44,311.7],"nice":false,"zero":false},"axis":null},"y":{"field":"v","type":"quantitative","scale":{"domain":[-600,150],"range":[446,321],"nice":false,"zero":false},"axis":null}}},
 {"data":{"values":[{}]},"mark":{"type":"rule","color":"black","strokeWidth":1,"strokeDash":[4,4]},"encoding":{"x":{"datum":6,"type":"quantitative","scale":{"domain":[0,146],"range":[44,311.7],"nice":false,"zero":false},"axis":null},"x2":{"datum":146},"y":{"datum":0,"type":"quantitative","scale":{"domain":[-600,150],"range":[446,321],"nice":false,"zero":false},"axis":null}}},
 {"data":{"values":[{}]},"mark":{"type":"point","shape":"circle","size":820,"filled":false,"stroke":"black","strokeWidth":2,"opacity":1},"encoding":{"x":{"datum":-14.7,"type":"quantitative","scale":{"domain":[0,146],"range":[44,311.7],"nice":false,"zero":false},"axis":null},"y":{"datum":12,"type":"quantitative","scale":{"domain":[-600,150],"range":[446,321],"nice":false,"zero":false},"axis":null}}},
 {"data":{"values":[{}]},"mark":{"type":"text","fontSize":17,"fontWeight":"bold","align":"center","baseline":"middle","color":"black"},"encoding":{"x":{"datum":-14.7,"type":"quantitative","scale":{"domain":[0,146],"range":[44,311.7],"nice":false,"zero":false},"axis":null},"y":{"datum":12,"type":"quantitative","scale":{"domain":[-600,150],"range":[446,321],"nice":false,"zero":false},"axis":null},"text":{"value":"L4"}}}
]},
{"layer":[
 {"data":{"name":"vc"},"transform":[{"filter":"datum.r === 'L5'"}],"mark":{"type":"line","color":"black","strokeWidth":1.4},"encoding":{"x":{"field":"t","type":"quantitative","scale":{"domain":[0,146],"range":[44,311.7],"nice":false,"zero":false},"axis":null},"y":{"field":"v","type":"quantitative","scale":{"domain":[-600,150],"range":[534,409],"nice":false,"zero":false},"axis":null}}},
 {"data":{"values":[{}]},"mark":{"type":"rule","color":"black","strokeWidth":1,"strokeDash":[4,4]},"encoding":{"x":{"datum":6,"type":"quantitative","scale":{"domain":[0,146],"range":[44,311.7],"nice":false,"zero":false},"axis":null},"x2":{"datum":146},"y":{"datum":0,"type":"quantitative","scale":{"domain":[-600,150],"range":[534,409],"nice":false,"zero":false},"axis":null}}},
 {"data":{"values":[{}]},"mark":{"type":"text","fontSize":17,"align":"center","baseline":"middle","color":"black"},"encoding":{"x":{"datum":-16,"type":"quantitative","scale":{"domain":[0,146],"range":[44,311.7],"nice":false,"zero":false},"axis":null},"y":{"datum":24,"type":"quantitative","scale":{"domain":[-600,150],"range":[534,409],"nice":false,"zero":false},"axis":null},"text":{"value":"L5"}}}
]},
{"layer":[
 {"data":{"name":"vc"},"transform":[{"filter":"datum.r === 'L6'"}],"mark":{"type":"line","color":"black","strokeWidth":1.4},"encoding":{"x":{"field":"t","type":"quantitative","scale":{"domain":[0,146],"range":[44,311.7],"nice":false,"zero":false},"axis":null},"y":{"field":"v","type":"quantitative","scale":{"domain":[-600,150],"range":[622,497],"nice":false,"zero":false},"axis":null}}},
 {"data":{"values":[{}]},"mark":{"type":"rule","color":"black","strokeWidth":1,"strokeDash":[4,4]},"encoding":{"x":{"datum":6,"type":"quantitative","scale":{"domain":[0,146],"range":[44,311.7],"nice":false,"zero":false},"axis":null},"x2":{"datum":146},"y":{"datum":0,"type":"quantitative","scale":{"domain":[-600,150],"range":[622,497],"nice":false,"zero":false},"axis":null}}},
 {"data":{"values":[{}]},"mark":{"type":"text","fontSize":17,"align":"center","baseline":"middle","color":"black"},"encoding":{"x":{"datum":-16,"type":"quantitative","scale":{"domain":[0,146],"range":[44,311.7],"nice":false,"zero":false},"axis":null},"y":{"datum":6,"type":"quantitative","scale":{"domain":[-600,150],"range":[622,497],"nice":false,"zero":false},"axis":null},"text":{"value":"L6"}}},
 {"data":{"values":[{}]},"mark":{"type":"rule","color":"black","strokeWidth":3},"encoding":{"x":{"datum":105.1,"type":"quantitative","scale":{"domain":[0,146],"range":[44,311.7],"nice":false,"zero":false},"axis":null},"y":{"datum":-192,"type":"quantitative","scale":{"domain":[-600,150],"range":[622,497],"nice":false,"zero":false},"axis":null},"y2":{"datum":-342}}},
 {"data":{"values":[{}]},"mark":{"type":"text","fontSize":17,"align":"left","baseline":"middle","color":"black"},"encoding":{"x":{"datum":109.6,"type":"quantitative","scale":{"domain":[0,146],"range":[44,311.7],"nice":false,"zero":false},"axis":null},"y":{"datum":-268,"type":"quantitative","scale":{"domain":[-600,150],"range":[622,497],"nice":false,"zero":false},"axis":null},"text":{"value":"150 pA"}}}
]},
{"layer":[
 {"data":{"name":"cc"},"transform":[{"filter":"datum.r === 'L1'"}],"mark":{"type":"line","color":"black","strokeWidth":1.4},"encoding":{"x":{"field":"t","type":"quantitative","scale":{"domain":[0,148],"range":[376,647.3],"nice":false,"zero":false},"axis":null},"y":{"field":"v","type":"quantitative","scale":{"domain":[-150,50],"range":[172,52],"nice":false,"zero":false},"axis":null}}},
 {"data":{"values":[{}]},"mark":{"type":"rule","color":"black","strokeWidth":1,"strokeDash":[4,4]},"encoding":{"x":{"datum":0,"type":"quantitative","scale":{"domain":[0,148],"range":[376,647.3],"nice":false,"zero":false},"axis":null},"x2":{"datum":148},"y":{"datum":0,"type":"quantitative","scale":{"domain":[-150,50],"range":[172,52],"nice":false,"zero":false},"axis":null}}},
 {"data":{"values":[{}]},"mark":{"type":"text","fontSize":14.5,"align":"center","baseline":"middle","color":"black"},"encoding":{"x":{"datum":68.7,"type":"quantitative","scale":{"domain":[0,148],"range":[376,647.3],"nice":false,"zero":false},"axis":null},"y":{"datum":56.7,"type":"quantitative","scale":{"domain":[-150,50],"range":[172,52],"nice":false,"zero":false},"axis":null},"text":{"value":"current-clamp"}}}
]},
{"layer":[
 {"data":{"name":"cc"},"transform":[{"filter":"datum.r === 'L2'"}],"mark":{"type":"line","color":"black","strokeWidth":1.4},"encoding":{"x":{"field":"t","type":"quantitative","scale":{"domain":[0,148],"range":[376,647.3],"nice":false,"zero":false},"axis":null},"y":{"field":"v","type":"quantitative","scale":{"domain":[-150,50],"range":[260,140],"nice":false,"zero":false},"axis":null}}},
 {"data":{"values":[{}]},"mark":{"type":"rule","color":"black","strokeWidth":1,"strokeDash":[4,4]},"encoding":{"x":{"datum":0,"type":"quantitative","scale":{"domain":[0,148],"range":[376,647.3],"nice":false,"zero":false},"axis":null},"x2":{"datum":148},"y":{"datum":0,"type":"quantitative","scale":{"domain":[-150,50],"range":[260,140],"nice":false,"zero":false},"axis":null}}}
]},
{"layer":[
 {"data":{"name":"cc"},"transform":[{"filter":"datum.r === 'L3'"}],"mark":{"type":"line","color":"black","strokeWidth":1.4},"encoding":{"x":{"field":"t","type":"quantitative","scale":{"domain":[0,148],"range":[376,647.3],"nice":false,"zero":false},"axis":null},"y":{"field":"v","type":"quantitative","scale":{"domain":[-150,50],"range":[348,228],"nice":false,"zero":false},"axis":null}}},
 {"data":{"values":[{}]},"mark":{"type":"rule","color":"black","strokeWidth":1,"strokeDash":[4,4]},"encoding":{"x":{"datum":0,"type":"quantitative","scale":{"domain":[0,148],"range":[376,647.3],"nice":false,"zero":false},"axis":null},"x2":{"datum":148},"y":{"datum":0,"type":"quantitative","scale":{"domain":[-150,50],"range":[348,228],"nice":false,"zero":false},"axis":null}}}
]},
{"layer":[
 {"data":{"name":"cc"},"transform":[{"filter":"datum.r === 'L4'"}],"mark":{"type":"line","color":"black","strokeWidth":1.4},"encoding":{"x":{"field":"t","type":"quantitative","scale":{"domain":[0,148],"range":[376,647.3],"nice":false,"zero":false},"axis":null},"y":{"field":"v","type":"quantitative","scale":{"domain":[-150,50],"range":[436,316],"nice":false,"zero":false},"axis":null}}},
 {"data":{"values":[{}]},"mark":{"type":"rule","color":"black","strokeWidth":1,"strokeDash":[4,4]},"encoding":{"x":{"datum":0,"type":"quantitative","scale":{"domain":[0,148],"range":[376,647.3],"nice":false,"zero":false},"axis":null},"x2":{"datum":148},"y":{"datum":0,"type":"quantitative","scale":{"domain":[-150,50],"range":[436,316],"nice":false,"zero":false},"axis":null}}}
]},
{"layer":[
 {"data":{"name":"cc"},"transform":[{"filter":"datum.r === 'L5'"}],"mark":{"type":"line","color":"black","strokeWidth":1.4},"encoding":{"x":{"field":"t","type":"quantitative","scale":{"domain":[0,148],"range":[376,647.3],"nice":false,"zero":false},"axis":null},"y":{"field":"v","type":"quantitative","scale":{"domain":[-150,50],"range":[524,404],"nice":false,"zero":false},"axis":null}}},
 {"data":{"values":[{}]},"mark":{"type":"rule","color":"black","strokeWidth":1,"strokeDash":[4,4]},"encoding":{"x":{"datum":0,"type":"quantitative","scale":{"domain":[0,148],"range":[376,647.3],"nice":false,"zero":false},"axis":null},"x2":{"datum":148},"y":{"datum":0,"type":"quantitative","scale":{"domain":[-150,50],"range":[524,404],"nice":false,"zero":false},"axis":null}}}
]},
{"layer":[
 {"data":{"name":"cc"},"transform":[{"filter":"datum.r === 'L6'"}],"mark":{"type":"line","color":"black","strokeWidth":1.4},"encoding":{"x":{"field":"t","type":"quantitative","scale":{"domain":[0,148],"range":[376,647.3],"nice":false,"zero":false},"axis":null},"y":{"field":"v","type":"quantitative","scale":{"domain":[-150,50],"range":[612,492],"nice":false,"zero":false},"axis":null}}},
 {"data":{"values":[{}]},"mark":{"type":"rule","color":"black","strokeWidth":1,"strokeDash":[4,4]},"encoding":{"x":{"datum":0,"type":"quantitative","scale":{"domain":[0,148],"range":[376,647.3],"nice":false,"zero":false},"axis":null},"x2":{"datum":148},"y":{"datum":0,"type":"quantitative","scale":{"domain":[-150,50],"range":[612,492],"nice":false,"zero":false},"axis":null}}},
 {"data":{"values":[{}]},"mark":{"type":"rule","color":"black","strokeWidth":3},"encoding":{"x":{"datum":-23.3,"type":"quantitative","scale":{"domain":[0,148],"range":[376,647.3],"nice":false,"zero":false},"axis":null},"x2":{"datum":6.7},"y":{"datum":-128.3,"type":"quantitative","scale":{"domain":[-150,50],"range":[612,492],"nice":false,"zero":false},"axis":null}}},
 {"data":{"values":[{}]},"mark":{"type":"text","fontSize":17,"align":"center","baseline":"middle","color":"black"},"encoding":{"x":{"datum":-8.7,"type":"quantitative","scale":{"domain":[0,148],"range":[376,647.3],"nice":false,"zero":false},"axis":null},"y":{"datum":-158.3,"type":"quantitative","scale":{"domain":[-150,50],"range":[612,492],"nice":false,"zero":false},"axis":null},"text":{"value":"30 ms"}}},
 {"data":{"values":[{}]},"mark":{"type":"rule","color":"black","strokeWidth":3},"encoding":{"x":{"datum":105.8,"type":"quantitative","scale":{"domain":[0,148],"range":[376,647.3],"nice":false,"zero":false},"axis":null},"y":{"datum":-106.2,"type":"quantitative","scale":{"domain":[-150,50],"range":[612,492],"nice":false,"zero":false},"axis":null},"y2":{"datum":-156.2}}},
 {"data":{"values":[{}]},"mark":{"type":"text","fontSize":17,"align":"left","baseline":"middle","color":"black"},"encoding":{"x":{"datum":110.4,"type":"quantitative","scale":{"domain":[0,148],"range":[376,647.3],"nice":false,"zero":false},"axis":null},"y":{"datum":-131.2,"type":"quantitative","scale":{"domain":[-150,50],"range":[612,492],"nice":false,"zero":false},"axis":null},"text":{"value":"50 mV"}}}
]},
{"layer":[
 {"data":{"values":[{}]},"mark":{"type":"rect","color":"#c3c3c3"},"encoding":{"x":{"datum":3.82,"type":"quantitative","scale":{"domain":[0.5,6.5],"range":[61.5,291.9],"nice":false,"zero":false}},"x2":{"datum":4.18},"y":{"datum":0,"type":"quantitative","scale":{"domain":[0,2.5],"range":[854.3,678.8],"nice":false,"zero":false}},"y2":{"datum":2.25}}},
 {"data":{"name":"fit"},"transform":[{"filter":"datum.p === 'L4'"}],"mark":{"type":"line","color":"black","strokeWidth":1.3,"interpolate":"monotone"},"encoding":{"x":{"field":"x","type":"quantitative","scale":{"domain":[0.5,6.5],"range":[61.5,291.9],"nice":false,"zero":false},"axis":{"orient":"bottom","offset":-44.7,"values":[1,2,3,4,5,6],"labelExpr":"'L' + datum.value","labelFontWeight":{"condition":{"test":"datum.value === 4","value":"bold"},"value":"normal"},"title":"dorsal root","labelFontSize":16,"labelPadding":2,"titleFontSize":17,"titlePadding":3}},"y":{"field":"y","type":"quantitative","scale":{"domain":[0,2.5],"range":[854.3,678.8],"nice":false,"zero":false},"axis":{"orient":"left","offset":-50.7,"values":[0,0.5,1,1.5,2],"labelExpr":"datum.value % 1 === 0 ? '' + datum.value : ''","title":"APs per stimulation","labelPadding":3,"titlePadding":5}}}},
 {"data":{"name":"ap"},"transform":[{"filter":"datum.p === 'L4'"}],"mark":{"type":"rule","color":"black","strokeWidth":1.2},"encoding":{"x":{"field":"x","type":"quantitative","scale":{"domain":[0.5,6.5],"range":[61.5,291.9],"nice":false,"zero":false}},"y":{"field":"lo","type":"quantitative","scale":{"domain":[0,2.5],"range":[854.3,678.8],"nice":false,"zero":false}},"y2":{"field":"hi"}}},
 {"data":{"name":"ap"},"transform":[{"filter":"datum.p === 'L4'"}],"mark":{"type":"tick","orient":"horizontal","size":6,"thickness":1.2,"color":"black","opacity":1},"encoding":{"x":{"field":"x","type":"quantitative","scale":{"domain":[0.5,6.5],"range":[61.5,291.9],"nice":false,"zero":false}},"y":{"field":"lo","type":"quantitative","scale":{"domain":[0,2.5],"range":[854.3,678.8],"nice":false,"zero":false}}}},
 {"data":{"name":"ap"},"transform":[{"filter":"datum.p === 'L4'"}],"mark":{"type":"tick","orient":"horizontal","size":6,"thickness":1.2,"color":"black","opacity":1},"encoding":{"x":{"field":"x","type":"quantitative","scale":{"domain":[0.5,6.5],"range":[61.5,291.9],"nice":false,"zero":false}},"y":{"field":"hi","type":"quantitative","scale":{"domain":[0,2.5],"range":[854.3,678.8],"nice":false,"zero":false}}}},
 {"data":{"name":"ap"},"transform":[{"filter":"datum.p === 'L4'"}],"mark":{"type":"point","shape":"square","filled":true,"size":170,"color":"black","opacity":1},"encoding":{"x":{"field":"x","type":"quantitative","scale":{"domain":[0.5,6.5],"range":[61.5,291.9],"nice":false,"zero":false}},"y":{"field":"y","type":"quantitative","scale":{"domain":[0,2.5],"range":[854.3,678.8],"nice":false,"zero":false}}}},
 {"data":{"values":[{}]},"mark":{"type":"text","fontSize":17,"align":"center","baseline":"middle","color":"black"},"encoding":{"x":{"datum":1.48,"type":"quantitative","scale":{"domain":[0.5,6.5],"range":[61.5,291.9],"nice":false,"zero":false}},"y":{"datum":1.77,"type":"quantitative","scale":{"domain":[0,2.5],"range":[854.3,678.8],"nice":false,"zero":false}},"text":{"value":"n=13"}}},
 {"data":{"values":[{}]},"mark":{"type":"text","fontSize":17,"align":"center","baseline":"middle","color":"black"},"encoding":{"x":{"datum":3.27,"type":"quantitative","scale":{"domain":[0.5,6.5],"range":[61.5,291.9],"nice":false,"zero":false}},"y":{"datum":2.67,"type":"quantitative","scale":{"domain":[0,2.5],"range":[854.3,678.8],"nice":false,"zero":false}},"text":{"value":"lamina I neuron in L4"}}},
 {"data":{"values":[{}]},"mark":{"type":"text","fontSize":27,"fontWeight":"bold","align":"center","baseline":"middle","color":"black"},"encoding":{"x":{"datum":-0.79,"type":"quantitative","scale":{"domain":[0.5,6.5],"range":[61.5,291.9],"nice":false,"zero":false}},"y":{"datum":2.71,"type":"quantitative","scale":{"domain":[0,2.5],"range":[854.3,678.8],"nice":false,"zero":false}},"text":{"value":"B"}}}
]},
{"layer":[
 {"data":{"values":[{}]},"mark":{"type":"rect","color":"#c3c3c3"},"encoding":{"x":{"datum":2.81,"type":"quantitative","scale":{"domain":[0.5,6.5],"range":[396.6,625.8],"nice":false,"zero":false}},"x2":{"datum":3.19},"y":{"datum":0,"type":"quantitative","scale":{"domain":[0,2.5],"range":[854.3,678.8],"nice":false,"zero":false}},"y2":{"datum":2.25}}},
 {"data":{"name":"fit"},"transform":[{"filter":"datum.p === 'L3'"}],"mark":{"type":"line","color":"black","strokeWidth":1.3,"interpolate":"monotone"},"encoding":{"x":{"field":"x","type":"quantitative","scale":{"domain":[0.5,6.5],"range":[396.6,625.8],"nice":false,"zero":false},"axis":{"orient":"bottom","offset":-44.7,"values":[1,2,3,4,5,6],"labelExpr":"'L' + datum.value","labelFontWeight":{"condition":{"test":"datum.value === 3","value":"bold"},"value":"normal"},"title":"dorsal root","labelFontSize":16,"labelPadding":2,"titleFontSize":17,"titlePadding":3}},"y":{"field":"y","type":"quantitative","scale":{"domain":[0,2.5],"range":[854.3,678.8],"nice":false,"zero":false},"axis":{"orient":"left","offset":-384.3,"values":[0,0.5,1,1.5,2],"labelExpr":"datum.value % 1 === 0 ? '' + datum.value : ''","title":"APs per stimulation","labelPadding":3,"titlePadding":5}}}},
 {"data":{"name":"ap"},"transform":[{"filter":"datum.p === 'L3'"}],"mark":{"type":"rule","color":"black","strokeWidth":1.2},"encoding":{"x":{"field":"x","type":"quantitative","scale":{"domain":[0.5,6.5],"range":[396.6,625.8],"nice":false,"zero":false}},"y":{"field":"lo","type":"quantitative","scale":{"domain":[0,2.5],"range":[854.3,678.8],"nice":false,"zero":false}},"y2":{"field":"hi"}}},
 {"data":{"name":"ap"},"transform":[{"filter":"datum.p === 'L3'"}],"mark":{"type":"tick","orient":"horizontal","size":6,"thickness":1.2,"color":"black","opacity":1},"encoding":{"x":{"field":"x","type":"quantitative","scale":{"domain":[0.5,6.5],"range":[396.6,625.8],"nice":false,"zero":false}},"y":{"field":"lo","type":"quantitative","scale":{"domain":[0,2.5],"range":[854.3,678.8],"nice":false,"zero":false}}}},
 {"data":{"name":"ap"},"transform":[{"filter":"datum.p === 'L3'"}],"mark":{"type":"tick","orient":"horizontal","size":6,"thickness":1.2,"color":"black","opacity":1},"encoding":{"x":{"field":"x","type":"quantitative","scale":{"domain":[0.5,6.5],"range":[396.6,625.8],"nice":false,"zero":false}},"y":{"field":"hi","type":"quantitative","scale":{"domain":[0,2.5],"range":[854.3,678.8],"nice":false,"zero":false}}}},
 {"data":{"name":"ap"},"transform":[{"filter":"datum.p === 'L3'"}],"mark":{"type":"point","shape":"square","filled":true,"size":170,"color":"black","opacity":1},"encoding":{"x":{"field":"x","type":"quantitative","scale":{"domain":[0.5,6.5],"range":[396.6,625.8],"nice":false,"zero":false}},"y":{"field":"y","type":"quantitative","scale":{"domain":[0,2.5],"range":[854.3,678.8],"nice":false,"zero":false}}}},
 {"data":{"values":[{}]},"mark":{"type":"text","fontSize":17,"align":"center","baseline":"middle","color":"black"},"encoding":{"x":{"datum":1.46,"type":"quantitative","scale":{"domain":[0.5,6.5],"range":[396.6,625.8],"nice":false,"zero":false}},"y":{"datum":1.77,"type":"quantitative","scale":{"domain":[0,2.5],"range":[854.3,678.8],"nice":false,"zero":false}},"text":{"value":"n=11"}}},
 {"data":{"values":[{}]},"mark":{"type":"text","fontSize":17,"align":"center","baseline":"middle","color":"black"},"encoding":{"x":{"datum":3.26,"type":"quantitative","scale":{"domain":[0.5,6.5],"range":[396.6,625.8],"nice":false,"zero":false}},"y":{"datum":2.67,"type":"quantitative","scale":{"domain":[0,2.5],"range":[854.3,678.8],"nice":false,"zero":false}},"text":{"value":"lamina I neuron in L3"}}}
]}
],
"resolve":{"scale":{"x":"independent","y":"independent"},"axis":{"x":"independent","y":"independent"}}
}
